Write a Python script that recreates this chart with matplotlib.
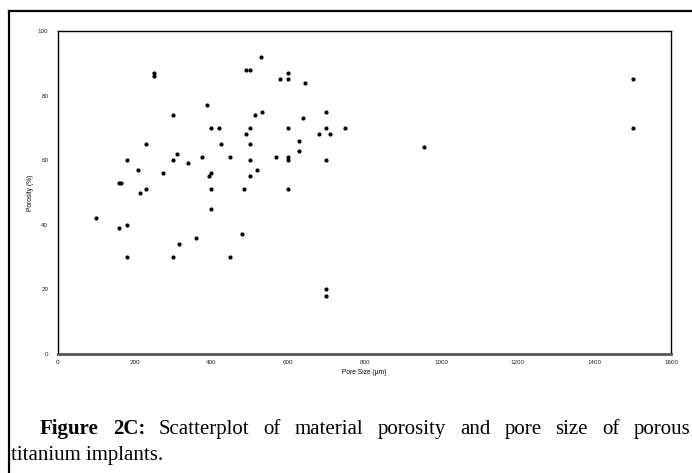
import matplotlib
matplotlib.use('Agg')
import matplotlib.pyplot as plt
from matplotlib.lines import Line2D

# data
pore_size = [100, 160, 165, 160, 180, 180, 180, 210, 215, 230, 230, 250, 250, 275,
             300, 300, 300, 310, 315, 340, 360, 375, 390, 395, 400, 400, 400, 400,
             420, 425, 450, 450, 480, 485, 490, 500, 490, 500, 500, 500, 500, 515,
             520, 530, 532, 570, 580, 600, 600, 600, 600, 600, 600, 630, 630, 640,
             645, 680, 700, 700, 700, 700, 700, 710, 750, 955, 1500, 1500]
porosity = [42, 53, 53, 39, 40, 30, 60, 57, 50, 51, 65, 87, 86, 56,
            74, 60, 30, 62, 34, 59, 36, 61, 77, 55, 56, 70, 51, 45,
            70, 65, 61, 30, 37, 51, 88, 88, 68, 70, 65, 60, 55, 74,
            57, 92, 75, 61, 85, 87, 85, 70, 61, 60, 51, 66, 63, 73,
            84, 68, 75, 70, 60, 20, 18, 68, 70, 64, 85, 70]

xticks = [0, 200, 400, 600, 800, 1000, 1200, 1400, 1600]
yticks = [0, 20, 40, 60, 80, 100]

caption_bold = ['Figure', '2C:']
caption_rest = 'Scatterplot of material porosity and pore size of porous'.split()
caption_line2 = 'titanium implants.'

W, H = 692, 473
fig = plt.figure(figsize=(W/100, H/100), dpi=100)
ax = fig.add_axes([58/W, 1-354/H, (671-58)/W, (354-31)/H])

ax.scatter(pore_size, porosity, s=9, color='black', linewidths=0, zorder=3)

ax.set_xlim(0, 1600)
ax.set_ylim(0, 100)
ax.set_xticks(xticks)
ax.set_yticks(yticks)
ax.tick_params(length=0, labelsize=4.5, pad=4)
ax.tick_params(axis='y', pad=7)
for lab in ax.get_xticklabels() + ax.get_yticklabels():
    lab.set_family('Liberation Sans')
    lab.set_color('#222222')
ax.set_xlabel('Pore Size (μm)', fontsize=4.8, family='Liberation Sans', labelpad=3)
ax.set_ylabel('Porosity (%)', fontsize=4.8, family='Liberation Sans', labelpad=3)

for s in ['top', 'left', 'right']:
    ax.spines[s].set_linewidth(1.0)
    ax.spines[s].set_color('black')
ax.spines['bottom'].set_linewidth(2.0)
ax.spines['bottom'].set_color('#555555')

# outer frame (left and top edges only)
fig.add_artist(Line2D([9/W, 9/W], [0, 1-11/H], color='black', lw=1.6, transform=fig.transFigure))
fig.add_artist(Line2D([9/W, 1], [1-11/H, 1-11/H], color='black', lw=1.6, transform=fig.transFigure))

# caption, first line justified between x=40 and x=690
fs = 15
words = [(w, 'bold') for w in caption_bold] + [(w, 'normal') for w in caption_rest]
texts = [fig.text(0, 1-434/H, w, fontsize=fs, weight=wt, family='Liberation Serif',
                  va='baseline') for w, wt in words]
fig.canvas.draw()
r = fig.canvas.get_renderer()
widths = [t.get_window_extent(r).width for t in texts]
x_start, x_end = 40, 690
gap = (x_end - x_start - sum(widths)) / (len(texts) - 1)
x = x_start
for t, w in zip(texts, widths):
    t.set_x(x / W)
    x += w + gap
fig.text(11/W, 1-460/H, caption_line2, fontsize=fs,
         family='Liberation Serif', va='baseline')

fig.savefig('out.png', dpi=100)
